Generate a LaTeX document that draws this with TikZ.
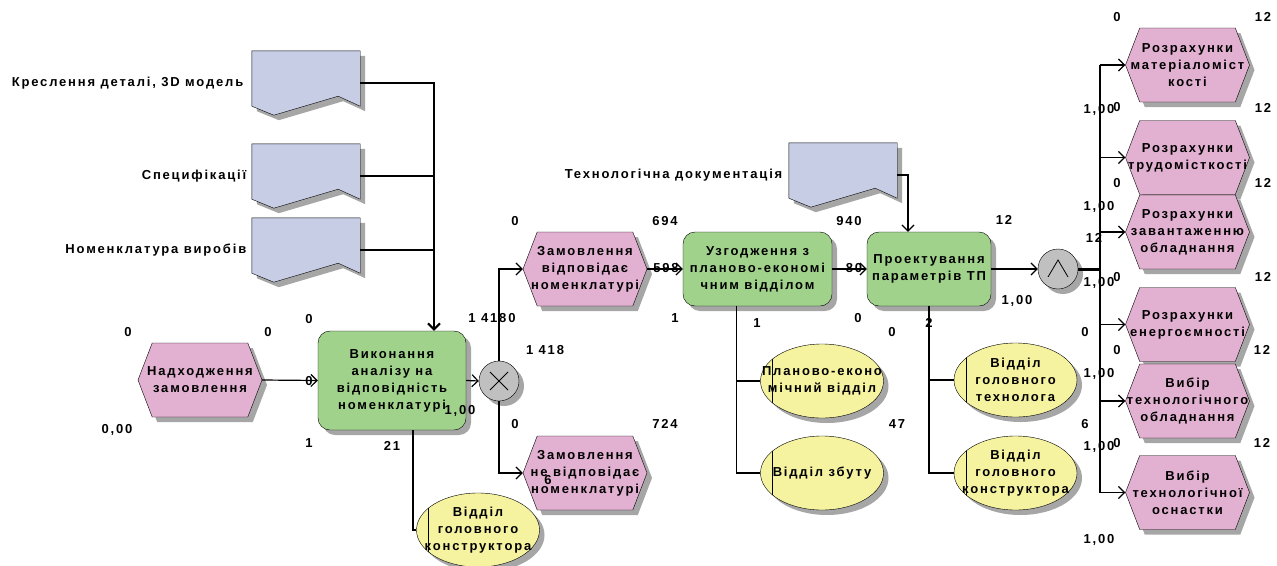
\documentclass[tikz,border=0pt]{standalone}
\usepackage{fontspec}
\setmainfont{Liberation Sans}[LetterSpace=14]
\usetikzlibrary{calc,arrows.meta,shapes.geometric,shapes.symbols,shadows}
\definecolor{evpink}{RGB}{226,176,208}
\definecolor{fngreen}{RGB}{160,210,140}
\definecolor{orgyel}{RGB}{245,242,160}
\definecolor{docblue}{RGB}{200,205,230}
\definecolor{opgray}{RGB}{192,192,192}
\def\docshape(#1){\draw[docbox] (#1.north west) -- (#1.north east) -- ($(#1.south east)+(0,-9)$) -- ($(#1.south east)+(-22,-19)$) -- ($(#1.south west)+(22,0)$) -- ($(#1.south west)+(0,-9)$) -- cycle;}

\begin{document}
\begin{tikzpicture}[x=1pt,y=-1pt,
	txt/.style={font=\bfseries\fontsize{13}{17}\selectfont, align=center},
	shade/.style={drop shadow={shadow xshift=5pt, shadow yshift=-5pt, fill=black!35, opacity=1}},
	event/.style={txt, signal, signal to=west and east, signal pointer angle=138, draw, fill=evpink, minimum width=124, minimum height=74, inner xsep=-40pt, inner ysep=-10pt, shade},
	func/.style={txt, rectangle, rounded corners=12, draw, fill=fngreen, minimum height=74, inner xsep=-20pt, inner ysep=0, shade},
	orgunit/.style={txt, ellipse, draw, fill=orgyel, minimum width=123, minimum height=74, inner xsep=-50pt, inner ysep=-20pt, shade,
		path picture={\draw ($(path picture bounding box.west)+(12,-40)$) -- ++(0,80);}},
	op/.style={circle, draw, fill=opgray, minimum size=40, inner sep=0, shade},
	docnode/.style={minimum width=108, minimum height=64, inner sep=0},
	docbox/.style={draw, fill=docblue, shade},
	lbl/.style={font=\bfseries\fontsize{13}{14}\selectfont, inner sep=0},
	conn/.style={line width=1.2pt},
	arr/.style={-{Straight Barb[length=6pt,width=12pt]}}]
		%%%%% START %%%%%
		\useasboundingbox (0,0) rectangle (1277,565);
		
		% documents
		\node[docnode] (d1) at (306,83) {};
		\node[docnode] (d2) at (306,176) {};
		\node[docnode] (d3) at (306,250) {};
		\node[docnode] (d4) at (843,175) {};
		\docshape(d1)
		\docshape(d2)
		\docshape(d3)
		\docshape(d4)
		\node[txt, anchor=east] (t1) at ([xshift=-5]d1.west) {Креслення деталі, 3D модель};
		\node[txt, anchor=east] (t2) at ([xshift=-2]d2.west) {Специфікації};
		\node[txt, anchor=east] (t3) at ([xshift=-2]d3.west) {Номенклатура виробів};
		\node[txt, anchor=east] (t4) at ([xshift=-3]d4.west) {Технологічна документація};
		
		% events, functions, operators
		\node[event] (ev0) at (200,380) {Надходження\\замовлення};
		\node[func, minimum width=148, minimum height=99] (fn1) at (392,380.5) {Виконання\\аналізу на\\відповідність\\номенклатурі};
		\node[op] (xor) at (499,381) {};
		\draw[line width=0.8pt] ($(xor)+(-9,-9)$) -- ($(xor)+(9,9)$) ($(xor)+(-9,9)$) -- ($(xor)+(9,-9)$);
		\node[event] (ev1) at (585,269) {Замовлення\\відповідає\\номенклатурі};
		\node[event] (ev2) at (585,473) {Замовлення\\не відповідає\\номенклатурі};
		\node[func, minimum width=149] (fn2) at (757.5,269) {Узгодження з\\планово-економі\\чним відділом};
		\node[func, minimum width=124] (fn3) at (929,269) {Проектування\\параметрів ТП};
		\node[op] (and) at (1058,269) {};
		\draw[line width=0.8pt] ($(and)+(-10,8)$) -- ($(and)+(0,-9)$) -- ($(and)+(10,8)$);
		\node[event] (e1) at (1187.5,65) {Розрахунки\\матеріаломіст\\кості};
		\node[event] (e2) at (1187.5,157.5) {Розрахунки\\трудомісткості};
		\node[event] (e3) at (1187.5,232) {Розрахунки\\завантаженню\\обладнання};
		\node[event] (e4) at (1187.5,324.5) {Розрахунки\\енергоємності};
		\node[event] (e5) at (1187.5,401) {Вибір\\технологічного\\обладнання};
		\node[event] (e6) at (1187.5,492.5) {Вибір\\технологічної\\оснастки};
		
		% org units
		\node[orgunit] (org1) at (478,530) {Відділ\\головного\\конструктора};
		\node[orgunit] (org2) at (822,381) {Планово-еконо\\мічний відділ};
		\node[orgunit] (org3) at (822,473) {Відділ збуту};
		\node[orgunit] (org4) at (1015.5,380) {Відділ\\головного\\технолога};
		\node[orgunit] (org5) at (1015.5,473) {Відділ\\головного\\конструктора};
		
		% connections
		\coordinate (inbus) at ([xshift=42]fn1.north);
		\draw[line width=2pt, arr] (d1.east) -| (inbus);
		\draw[conn] (d2.east) -- (d2.east -| inbus);
		\draw[conn] (d3.east) -- (d3.east -| inbus);
		\draw[conn, arr] (d4.east) -| ([xshift=-21]fn3.north);
		\draw[conn, arr] (ev0.east) -- (fn1.west);
		\draw[conn, arr] (fn1.east) -- (xor.west);
		\draw[conn, arr] (xor.north) |- (ev1.west);
		\draw[conn, arr] (xor.south) |- (ev2.west);
		\draw[conn, arr] (ev1.east) -- (fn2.west);
		\draw[conn, arr] (fn2.east) -- (fn3.west);
		\draw[conn, arr] (fn3.east) -- (and.west);
		\coordinate (outbus) at ([xshift=22]and.east);
		\draw[line width=3pt] (and.east) -- (outbus);
		\draw[line width=2pt] (outbus |- e1.west) -- (outbus |- e6.west);
		\foreach \e in {e1,e2,e3,e4,e5,e6}
			\draw[conn, arr] (outbus |- \e.west) -- (\e.west);
		\draw[conn] ([xshift=21]fn1.south) |- (org1.west);
		\draw[conn] ([xshift=-21]fn2.south) |- (org3.west);
		\draw[conn] ([xshift=-21]fn2.south |- org2.west) -- (org2.west);
		\draw[conn] (fn3.south) |- (org5.west);
		\draw[conn] (fn3.south |- org4.west) -- (org4.west);
		
		% attribute values
		\foreach \x/\y/\t [count=\i] in {128/332/0, 268/332/0, 117/430/{0,00}, 309/381/0, 309/319/0, 309/443/1, 392/446/21, 460/411/{1,00},
			492/318/{1 4180}, 545/350/{1 418}, 515/424/0, 548/480/6, 515/221/0, 665/221/694, 666/268/598, 675/318/1, 665/424/724,
			757/323/1, 849/221/940, 854/268/80, 858/318/0, 1004/220/12, 1017/301/{1,00}, 929/323/2, 892/332/0, 1085/332/0, 897/424/47, 1085/424/6,
			1117/17/0, 1263/17/12, 1099/110/{1,00}, 1117/107/0, 1263/108/12, 1117/183/0, 1263/183/12, 1099/207/{1,00}, 1094/238/12,
			1099/283/{1,00}, 1117/277/0, 1263/277/12, 1117/350/0, 1262/350/12, 1099/374/{1,00}, 1099/447/{1,00}, 1117/443/0, 1262/443/12, 1099/540/{1,00}}
			\node[lbl] (val\i) at (\x,\y) {\t};
		%%%%% END %%%%%
\end{tikzpicture}
\end{document}
